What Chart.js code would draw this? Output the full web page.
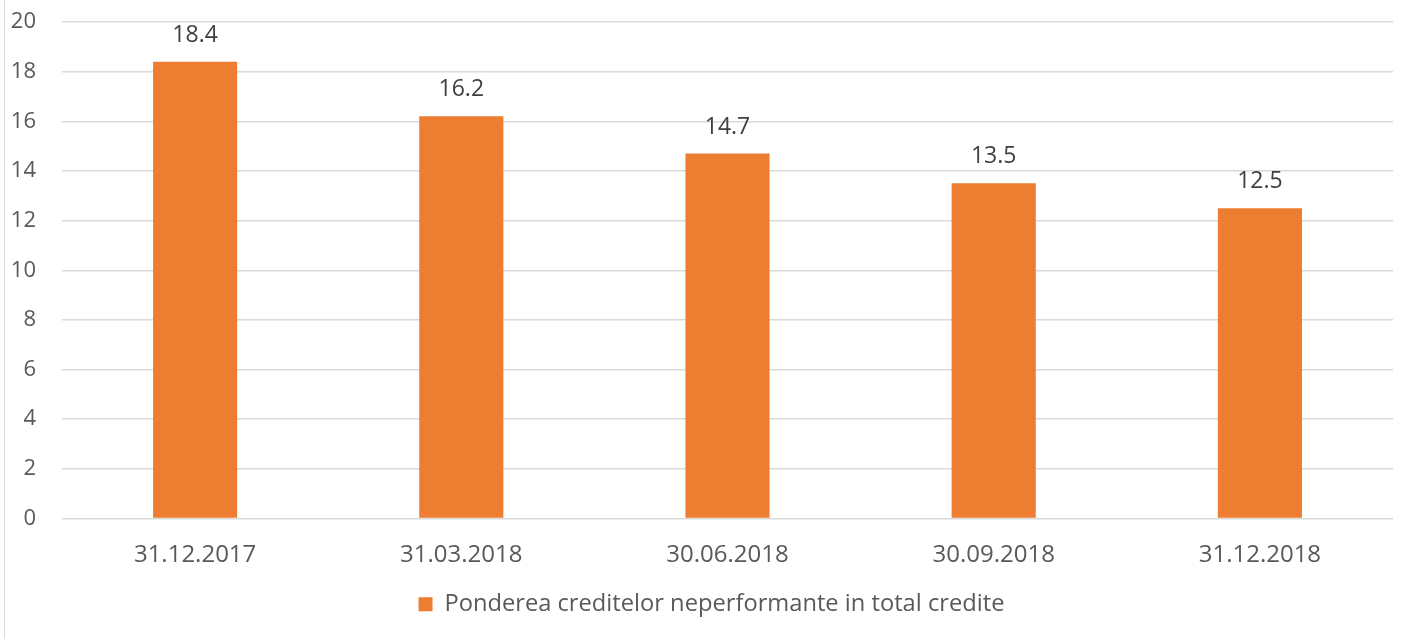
<!DOCTYPE html>
<html>
<head>
<meta charset="utf-8">
<script src="https://cdn.jsdelivr.net/npm/chart.js@4/dist/chart.umd.min.js"></script>
<style>
  html, body { margin: 0; padding: 0; background: #fff; }
  #wrap { position: relative; width: 1404px; height: 639px; }
  #edge { position: absolute; left: 4px; top: 0; width: 1px; height: 639px; background: #d9d9d9; }
  canvas { position: absolute; left: 0; top: 0; }
</style>
</head>
<body>
<div id="wrap">
  <canvas id="chart" width="1404" height="639"></canvas>
  <div id="edge"></div>
</div>
<script>
// NPL share in total loans, by reporting date
const dates = ['31.12.2017', '31.03.2018', '30.06.2018', '30.09.2018', '31.12.2018'];
const nplShare = [18.4, 16.2, 14.7, 13.5, 12.5];
const seriesName = 'Ponderea creditelor neperformante in total credite';

const ORANGE = '#ED7D31';
const TEXT = '#595959';
const FONT = '"Open Sans", "DejaVu Sans", sans-serif';

// value labels above bars
const barLabels = {
  id: 'barLabels',
  afterLayout(chart) {
    // legend in the original sits a bit right of centre
    if (chart.legend) {
      chart.legend.left += 15;
      chart.legend.right += 15;
    }
  },
  afterDatasetsDraw(chart) {
    const ctx = chart.ctx;
    const meta = chart.getDatasetMeta(0);
    ctx.save();
    ctx.font = '23px ' + FONT;
    ctx.fillStyle = '#404040';
    ctx.textAlign = 'center';
    ctx.textBaseline = 'middle';
    meta.data.forEach((bar, i) => {
      ctx.fillText(nplShare[i].toFixed(1), bar.x, bar.y - 26.5);
    });
    ctx.restore();
  },
};

new Chart(document.getElementById('chart'), {
  type: 'bar',
  data: {
    labels: dates,
    datasets: [{
      label: seriesName,
      data: nplShare,
      backgroundColor: ORANGE,
      borderWidth: 0,
      categoryPercentage: 1,
      barPercentage: 0.316,
    }],
  },
  options: {
    responsive: false,
    animation: false,
    layout: { padding: { top: 22, right: 11, bottom: 13, left: 0 } },
    scales: {
      x: {
        grid: { display: false },
        border: { display: false },
        ticks: { color: TEXT, font: { family: FONT, size: 24 }, padding: 14, maxRotation: 0 },
      },
      y: {
        min: 0,
        max: 20,
        grid: { color: '#d9d9d9', lineWidth: 1.5, drawTicks: false },
        border: { display: false },
        ticks: { stepSize: 2, color: TEXT, font: { family: FONT, size: 22 }, padding: 26 },
        afterFit(scale) {
          scale.width = 62;
          scale.paddingTop = 0;
          scale.paddingBottom = 0;
        },
      },
    },
    plugins: {
      legend: {
        position: 'bottom',
        labels: {
          color: TEXT,
          font: { family: FONT, size: 23.7 },
          boxWidth: 14,
          boxHeight: 14,
          padding: 9,
        },
      },
      tooltip: { enabled: false },
    },
  },
  plugins: [barLabels],
});
</script>
</body>
</html>
